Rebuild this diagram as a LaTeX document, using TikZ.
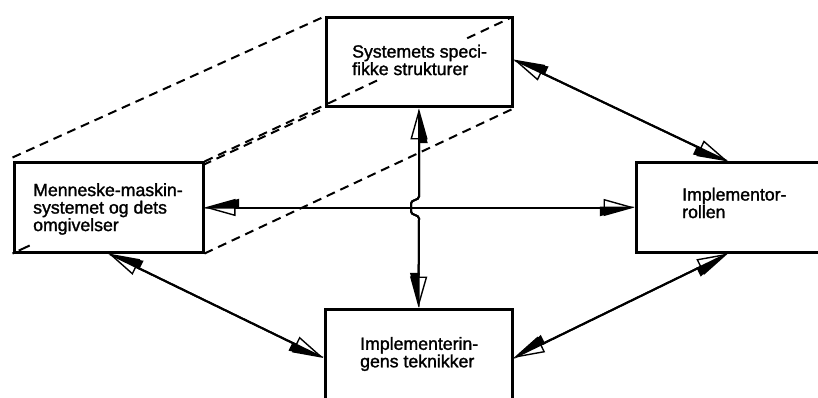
\documentclass[tikz,border=0pt]{standalone}
\usepackage{fontspec}
\newfontfamily\labfont{Liberation Sans}[FakeBold=1.5]
\usetikzlibrary{arrows.meta,calc,backgrounds}
\tikzset{
  x=1pt, y=-1pt,
  HeadO/.tip={Stealth[open, inset=0pt, length=31pt, width=17pt, line width=1.4pt]},
  HeadF/.tip={Stealth[inset=0pt, length=31pt, width=17pt, right]},
  box/.style={draw, line width=3pt, fill=white, inner sep=0pt, rectangle},
  lab/.style={align=left, anchor=west, inner sep=0pt, font=\labfont\fontsize{17.7}{17.5}\selectfont},
  link/.style={draw, line width=2pt, arrows={HeadO-HeadO}, postaction={draw, arrows={HeadF-HeadF}}},
  hid/.style={line width=2pt, dash pattern=on 9pt off 6pt},
}
\begin{document}
\begin{tikzpicture}
\useasboundingbox (0,0) rectangle (818,398);
\clip (0,0) rectangle (818,398);
% boxes
\node[box, minimum width=186pt, minimum height=89pt] (T) at (419,62.5) {};
\node[box, minimum width=189pt, minimum height=89pt] (L) at (108.5,207.5) {};
\node[box, minimum width=184pt, minimum height=89pt] (R) at (728,207.5) {};
\node[box, minimum width=187pt, minimum height=98pt] (B) at (418.5,358) {};
% hidden prism edges
\begin{pgfonlayer}{background}
  \fill[white] (0,0) rectangle (818,398);
  \draw[hid] ([yshift=4pt]L.north west) -- (T.north west);
  \draw[hid] (L.north east) -- (T.north east);
  \draw[hid] (L.south west) -- (T.south west);
  \draw[hid] (L.south east) -- (T.south east);
\end{pgfonlayer}
% visible parts of edges inside boxes
\draw[hid] ($(L.north east)!0.40!(T.north east)$) -- ($(L.north east)!0.56!(T.north east)$);
\draw[hid] ($(L.north east)!0.85!(T.north east)$) -- ($(L.north east)!0.99!(T.north east)$);
\draw[hid, dash pattern=on 9pt off 0pt] ($(L.south west)!0.02!(T.south west)$) -- ($(L.south west)!0.055!(T.south west)$);
% texts
\node[lab] (Tt) at (352,60) {Systemets speci-\\fikke strukturer};
\node[lab] (Lt) at (33,209) {Menneske-maskin-\\systemet og dets\\omgivelser};
\node[lab] (Rt) at (682,203) {Implementor-\\rollen};
\node[lab] (Bt) at (360,354) {Implementerin-\\gens teknikker};
% crossing
\coordinate (X) at (T.south |- L.east);
\coordinate (j1) at ([yshift=11pt]X);
\coordinate (j2) at ([xshift=-8pt,yshift=4pt]X);
\coordinate (j3) at ([xshift=-8pt,yshift=-4pt]X);
\coordinate (j4) at ([yshift=-11pt]X);
% connectors
\path[link] (L.east) -- (R.west);
\path[link] (T.south) -- (j1) to[out=-90,in=90] (j2) -- (j3) to[out=-90,in=90] (j4) -- (B.north);
\path[link] ([yshift=3pt]T.east) -- (R.north);
\path[link] (L.south) -- (B.west);
\path[link] (R.south) -- (B.east);
\end{tikzpicture}
\end{document}
